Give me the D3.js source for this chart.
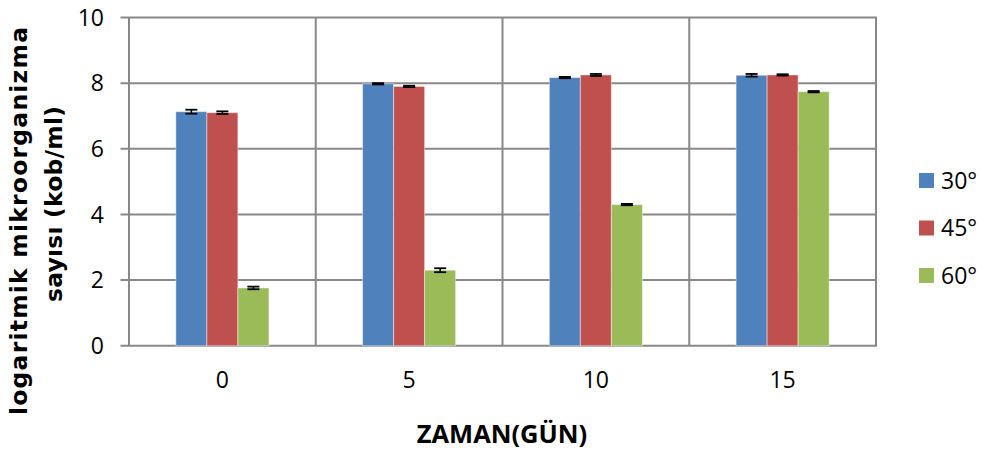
<!DOCTYPE html>
<html><head><meta charset="utf-8">
<script src="https://cdn.jsdelivr.net/npm/d3@7"></script>
<style>body{margin:0;background:#fff;} svg{display:block;font-family:"Open Sans","DejaVu Sans",sans-serif;}</style>
</head><body>
<script>
const categories = ["0","5","10","15"];
const seriesNames = ["30°","45°","60°"];
const colors = ["#4F81BD","#C0504D","#9BBB59"];
const values30 = [7.13, 7.98, 8.17, 8.24];
const values45 = [7.10, 7.90, 8.25, 8.25];
const values60 = [1.76, 2.30, 4.30, 7.74];
const err30 = [0.06, 0.02, 0.02, 0.04];
const err45 = [0.04, 0.02, 0.03, 0.02];
const err60 = [0.04, 0.06, 0.02, 0.02];
const yTicks = [0,2,4,6,8,10];

const W = 982, H = 456;
const m = {left:129, right:876, top:17.5, bottom:345.7};
const svg = d3.select("body").append("svg").attr("width",W).attr("height",H);

const x = d3.scaleBand().domain(categories).range([m.left,m.right]).paddingInner(0).paddingOuter(0);
const y = d3.scaleLinear().domain([0,10]).range([m.bottom,m.top]);
const xs = d3.scaleBand().domain(seriesNames).range([0,x.bandwidth()]).paddingInner(0).paddingOuter(1.51);

const grid = "#888888";
svg.append("g").selectAll("line").data(yTicks).join("line")
  .attr("x1",m.left-8.5).attr("x2",m.right+1).attr("y1",d=>y(d)).attr("y2",d=>y(d))
  .attr("stroke",grid).attr("stroke-width",2);
const bounds = categories.map(c=>x(c)).concat([m.right]);
svg.append("g").selectAll("line").data(bounds).join("line")
  .attr("x1",d=>d).attr("x2",d=>d).attr("y1",m.top).attr("y2",m.bottom)
  .attr("stroke",grid).attr("stroke-width",2);

svg.append("g").selectAll("text").data(yTicks).join("text")
  .attr("x",104).attr("y",d=>y(d)).attr("dy","0.36em")
  .attr("text-anchor","end").attr("font-size",23).attr("fill","#000").text(d=>d);
svg.append("g").selectAll("text").data(categories).join("text")
  .attr("x",d=>x(d)+x.bandwidth()/2).attr("y",388)
  .attr("text-anchor","middle").attr("font-size",23).attr("fill","#000").text(d=>d);

const series = [
  {name:seriesNames[0], vals:values30, errs:err30, color:colors[0]},
  {name:seriesNames[1], vals:values45, errs:err45, color:colors[1]},
  {name:seriesNames[2], vals:values60, errs:err60, color:colors[2]}
];
series.forEach(s=>{
  const g = svg.append("g");
  const data = categories.map((c,i)=>({c, v:s.vals[i], e:s.errs[i]}));
  g.selectAll("rect").data(data).join("rect")
    .attr("x",d=>x(d.c)+xs(s.name)).attr("width",xs.bandwidth())
    .attr("y",d=>y(d.v)).attr("height",d=>y(0)-y(d.v))
    .attr("fill",s.color).attr("stroke","rgba(255,255,255,0.45)").attr("stroke-width",1);
  const eg = g.selectAll("g.err").data(data).join("g").attr("class","err");
  const cx = d=>x(d.c)+xs(s.name)+xs.bandwidth()/2;
  eg.append("line").attr("x1",cx).attr("x2",cx).attr("y1",d=>y(d.v+d.e)).attr("y2",d=>y(d.v-d.e))
    .attr("stroke","#000").attr("stroke-width",1.5);
  [1,-1].forEach(sg=>{
    eg.append("line").attr("x1",d=>cx(d)-6).attr("x2",d=>cx(d)+6)
      .attr("y1",d=>y(d.v+sg*d.e)).attr("y2",d=>y(d.v+sg*d.e))
      .attr("stroke","#000").attr("stroke-width",1.8);
  });
});

const leg = svg.append("g").selectAll("g").data(series).join("g")
  .attr("transform",(d,i)=>`translate(919,${180.5+i*47.5})`);
leg.append("rect").attr("x",0).attr("y",-7.5).attr("width",15).attr("height",15).attr("fill",d=>d.color);
leg.append("text").attr("x",22).attr("y",0).attr("dy","0.36em").attr("font-size",23).attr("fill","#000").text(d=>d.name);

svg.append("text").attr("x",502).attr("y",443)
  .attr("text-anchor","middle").attr("font-size",25.5).attr("font-weight","bold").text("ZAMAN(GÜN)");
svg.append("text").attr("transform","translate(27,221) rotate(-90)")
  .attr("text-anchor","middle").attr("font-size",23.5).attr("font-weight","bold")
  .style("font-family","'DejaVu Sans',sans-serif")
  .attr("textLength",388).attr("lengthAdjust","spacing").text("logaritmik mikroorganizma");
svg.append("text").attr("transform","translate(62,204) rotate(-90)")
  .attr("text-anchor","middle").attr("font-size",23.5).attr("font-weight","bold")
  .style("font-family","'DejaVu Sans',sans-serif")
  .attr("textLength",196).attr("lengthAdjust","spacing").text("sayısı (kob/ml)");
</script>
</body></html>
